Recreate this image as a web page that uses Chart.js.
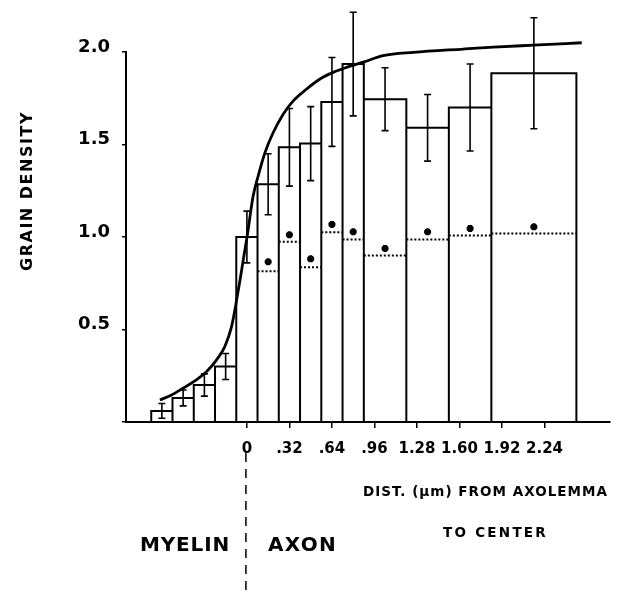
<!DOCTYPE html>
<html>
<head>
<meta charset="utf-8">
<script src="https://cdn.jsdelivr.net/npm/chart.js@4"></script>
<style>
  html, body { margin: 0; padding: 0; background: #fff; }
  canvas { display: block; }
</style>
</head>
<body>
<canvas id="grainChart" width="639" height="593"></canvas>
<script>
// bin edges in µm (distance from axolemma), one more than the bars
const binEdges = [-0.72, -0.56, -0.40, -0.24, -0.08, 0.08, 0.24, 0.40, 0.56, 0.72, 0.88, 1.20, 1.52, 1.84, 2.48];
// grain density per bin + error bar half-length
const grainDensity = [0.06, 0.13, 0.20, 0.30, 1.00, 1.285, 1.485, 1.505, 1.73, 1.935, 1.745, 1.59, 1.70, 1.885];
const grainError   = [0.04, 0.043, 0.06, 0.07, 0.14, 0.165, 0.21, 0.20, 0.24, 0.28, 0.17, 0.18, 0.235, 0.30];
// dotted line and asterisks (axon bins only, from bin 5 on)
const dottedFrom = 5;
const dottedDensity = [0.815, 0.974, 0.836, 1.026, 0.986, 0.90, 0.986, 1.008, 1.019];
const starDensity   = [0.866, 1.012, 0.882, 1.068, 1.028, 0.938, 1.028, 1.046, 1.055];
// smooth curve
const curveX = [-0.655, -0.567, -0.48, -0.392, -0.303, -0.228, -0.166, -0.115, -0.090, -0.073, -0.047, -0.023, 0.002, 0.047, 0.085, 0.136, 0.198, 0.273, 0.349, 0.450, 0.550, 0.650, 0.751, 0.876, 1.026, 1.252, 1.629, 1.855, 2.156, 2.52];
const curveY = [0.119, 0.146, 0.183, 0.222, 0.273, 0.336, 0.408, 0.517, 0.607, 0.679, 0.788, 0.896, 1.004, 1.221, 1.33, 1.456, 1.565, 1.664, 1.736, 1.80, 1.854, 1.89, 1.917, 1.945, 1.98, 1.998, 2.016, 2.026, 2.037, 2.05];
// x ticks
const xTickValues = [0, 0.32, 0.64, 0.96, 1.28, 1.60, 1.92, 2.24];
const xTickLabels = ['0', '.32', '.64', '.96', '1.28', '1.60', '1.92', '2.24'];

const FONT = 'DejaVu Sans';

// outline of every bar as one path: up, across, down
const barOutline = [{ x: binEdges[0], y: 0 }];
grainDensity.forEach((h, i) => {
  barOutline.push({ x: binEdges[i], y: h });
  barOutline.push({ x: binEdges[i + 1], y: h });
  barOutline.push({ x: binEdges[i + 1], y: 0 });
});

const dotted = [];
const stars = [];
dottedDensity.forEach((v, k) => {
  const i = dottedFrom + k;
  dotted.push({ x: binEdges[i], y: v });
  dotted.push({ x: binEdges[i + 1], y: v });
  dotted.push({ x: binEdges[i + 1] + 0.0001, y: null });
  stars.push({ x: (binEdges[i] + binEdges[i + 1]) / 2, y: starDensity[k] });
});

const curve = curveX.map((x, i) => ({ x: x, y: curveY[i] }));

// text with letter spacing stretched to a given width
function fitText(ctx, text, x, y, width, size, opts) {
  opts = opts || {};
  ctx.save();
  ctx.font = 'bold ' + size + 'px "' + FONT + '"';
  ctx.fillStyle = '#000';
  ctx.textBaseline = 'middle';
  ctx.textAlign = opts.center ? 'center' : 'left';
  const w0 = ctx.measureText(text).width;
  let maxW;
  if ('letterSpacing' in ctx && w0 < width) {
    ctx.letterSpacing = ((width - w0) / text.length) + 'px';
  } else if (w0 > width) {
    maxW = width;
  }
  ctx.translate(x, y);
  if (opts.rotate) ctx.rotate(opts.rotate);
  if (maxW) ctx.fillText(text, 0, 0, maxW); else ctx.fillText(text, 0, 0);
  ctx.restore();
}

const extras = {
  id: 'extras',
  afterDatasetsDraw(chart) {
    const ctx = chart.ctx;
    const xs = chart.scales.x, ys = chart.scales.y;
    // error bars
    ctx.save();
    ctx.strokeStyle = '#000';
    ctx.lineWidth = 1.6;
    grainDensity.forEach((h, i) => {
      const px = xs.getPixelForValue((binEdges[i] + binEdges[i + 1]) / 2);
      const top = ys.getPixelForValue(h + grainError[i]);
      const bot = ys.getPixelForValue(h - grainError[i]);
      ctx.beginPath();
      ctx.moveTo(px, top); ctx.lineTo(px, bot);
      ctx.moveTo(px - 3.5, top); ctx.lineTo(px + 3.5, top);
      ctx.moveTo(px - 3.5, bot); ctx.lineTo(px + 3.5, bot);
      ctx.stroke();
    });
    // dashed myelin / axon divider
    const dx = xs.getPixelForValue(0) - 1;
    ctx.setLineDash([9, 7]);
    ctx.lineWidth = 1.5;
    ctx.beginPath();
    ctx.moveTo(dx, 453); ctx.lineTo(dx, 593);
    ctx.stroke();
    ctx.restore();

    fitText(ctx, 'GRAIN DENSITY', 28, 191, 160, 16, { center: true, rotate: -Math.PI / 2 });
    fitText(ctx, 'DIST. (\u00b5m) FROM AXOLEMMA', 363, 492, 245, 13.5);
    fitText(ctx, 'TO CENTER', 443, 533, 105, 13.5);
    fitText(ctx, 'MYELIN', 140, 546, 90, 20);
    fitText(ctx, 'AXON', 268, 546, 69, 20);
  }
};

new Chart(document.getElementById('grainChart'), {
  type: 'line',
  data: {
    datasets: [
      { data: barOutline, borderColor: '#000', borderWidth: 2, pointRadius: 0, tension: 0, fill: false, clip: false },
      { data: dotted, borderColor: '#000', borderWidth: 2, borderDash: [2, 2], pointRadius: 0, spanGaps: false, clip: false },
      { data: stars, showLine: false, pointStyle: 'star', pointRadius: 3.5, borderColor: '#000', borderWidth: 2.6, clip: false },
      { data: curve, borderColor: '#000', borderWidth: 2.8, pointRadius: 0, cubicInterpolationMode: 'monotone', clip: false }
    ]
  },
  options: {
    responsive: false,
    animation: false,
    layout: { padding: { left: 0, right: 29, top: 52, bottom: 0 } },
    plugins: { legend: { display: false }, tooltip: { enabled: false } },
    scales: {
      x: {
        type: 'linear',
        min: -0.91,
        max: 2.733,
        afterBuildTicks(scale) { scale.ticks = xTickValues.map(v => ({ value: v })); },
        afterFit(scale) { scale.height = 171; },
        grid: { drawOnChartArea: false, drawTicks: true, tickLength: 6, color: '#000', lineWidth: 1.5 },
        border: { display: true, color: '#000', width: 2 },
        ticks: {
          color: '#000',
          font: { family: FONT, weight: 'bold', size: 15 },
          padding: 12,
          maxRotation: 0,
          autoSkip: false,
          callback: (v, i) => xTickLabels[i]
        }
      },
      y: {
        min: 0,
        max: 2.0,
        afterFit(scale) { scale.width = 126; },
        grid: { drawOnChartArea: false, drawTicks: true, tickLength: 4, color: '#000', lineWidth: 1.5 },
        border: { display: true, color: '#000', width: 2 },
        ticks: {
          stepSize: 0.5,
          color: '#000',
          font: { family: FONT, weight: 'bold', size: 18 },
          padding: 12,
          labelOffset: -5,
          callback: v => (v === 0 ? '' : v.toFixed(1))
        }
      }
    }
  },
  plugins: [extras]
});
</script>
</body>
</html>
